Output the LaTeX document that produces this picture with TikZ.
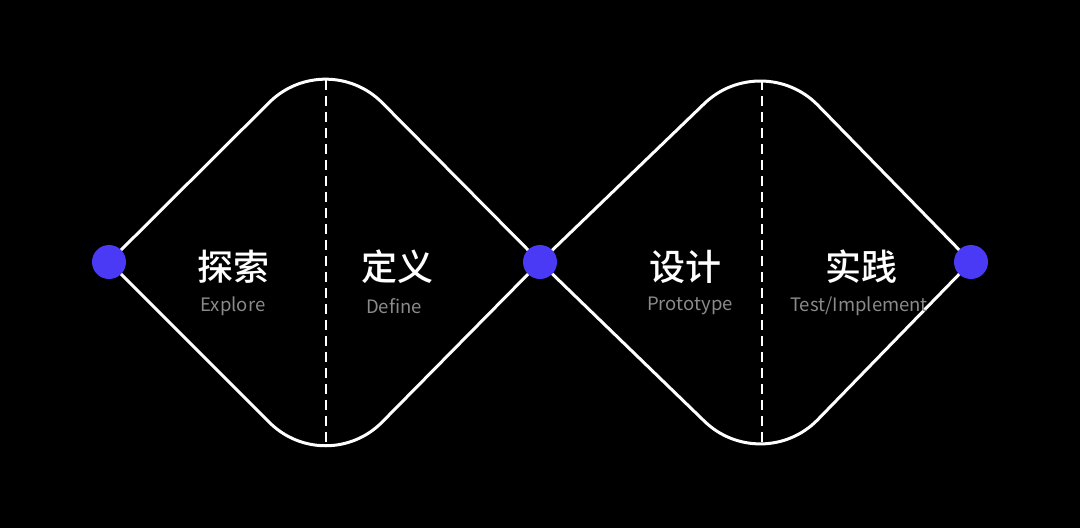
\documentclass[tikz,border=0pt]{standalone}
\usepackage{fontspec}
\newfontfamily\cjk{Noto Sans CJK SC}
\newfontfamily\cjkm{Noto Sans CJK SC}[UprightFont=* Medium]
\definecolor{dotblue}{RGB}{74,58,245}
\definecolor{subgray}{RGB}{138,138,138}
\tikzset{
  edge/.style={draw=white, line width=3pt, rounded corners=80pt},
  divider/.style={draw=white, line width=1.6pt, dash pattern=on 10pt off 6pt},
  dot/.style={circle, fill=dotblue, minimum size=34pt, inner sep=0pt},
  title/.style={text=white, font=\cjkm\fontsize{36}{38}\selectfont, inner sep=0pt, anchor=center},
  sub/.style={text=subgray, font=\cjk\fontsize{18.5}{20}\selectfont, inner sep=0pt, anchor=center}
}
\begin{document}
\begin{tikzpicture}[x=1pt,y=-1pt]
\fill[black] (0,0) rectangle (1080,528);
\useasboundingbox (0,0) rectangle (1080,528);
% coordinates
\coordinate (L1) at (109,262);
\coordinate (T1) at (326,46);
\coordinate (B1) at (326,479);
\coordinate (M) at (540,262);
\coordinate (T2) at (762,48);
\coordinate (B2) at (762,477);
\coordinate (R2) at (971,262);
\coordinate (D1t) at (326,80);
\coordinate (D1b) at (326,447);
\coordinate (D2t) at (762,80);
\coordinate (D2b) at (762,447);
% diamonds
\draw[edge] (L1) -- (T1) -- (M);
\draw[edge] (L1) -- (B1) -- (M);
\draw[edge] (M) -- (T2) -- (R2);
\draw[edge] (M) -- (B2) -- (R2);
% dividers
\draw[divider] (D1t) -- (D1b);
\draw[divider] (D2t) -- (D2b);
% dots
\node[dot] (n1) at (L1) {};
\node[dot] (n2) at (M) {};
\node[dot] (n3) at (R2) {};
% labels
\node[title] (t1) at (233,267) {探索};
\node[sub] (s1) at (233,306) {Explore};
\node[title] (t2) at (397,267) {定义};
\node[sub] (s2) at (394,306) {Define};
\node[title] (t3) at (685,267) {设计};
\node[sub] (s3) at (690,306) {Prototype};
\node[title] (t4) at (861,267) {实践};
\node[sub] (s4) at (859,306) {Test/Implement};
\end{tikzpicture}
\end{document}
